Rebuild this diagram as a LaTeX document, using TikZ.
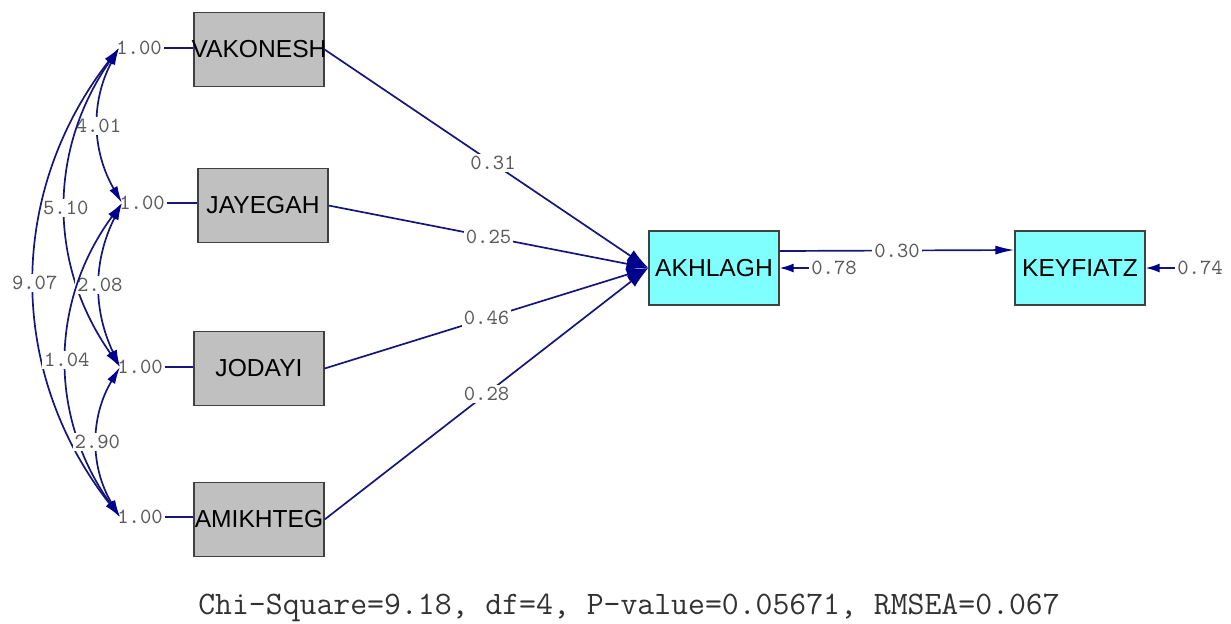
\documentclass[tikz,border=0pt]{standalone}
\usepackage{fontspec}
\setmainfont{Liberation Sans}
\usetikzlibrary{arrows.meta}
\definecolor{pathblue}{RGB}{22,22,120}
\definecolor{headblue}{RGB}{0,0,140}
\definecolor{numgray}{RGB}{90,90,90}
\definecolor{fitgray}{RGB}{50,50,50}
\definecolor{boxgray}{RGB}{192,192,192}
\definecolor{boxcyan}{RGB}{128,255,255}
% variable names are centred in fixed-size boxes and may overhang them
\newcommand{\varname}[1]{\makebox[0pt][c]{#1}}
\begin{document}
\begin{tikzpicture}[x=0.5pt,y=-0.5pt,
  var/.style={draw=black!75, line width=0.6pt, minimum width=65pt, minimum height=37pt,
    inner sep=0pt, font=\fontsize{12.3}{13}\selectfont},
  obs/.style={var, fill=boxgray},
  lat/.style={var, fill=boxcyan},
  num/.style={font=\ttfamily\fontsize{10.8}{11}\selectfont, text=numgray, fill=white, inner sep=1pt},
  link/.style={draw=pathblue, line width=0.85pt},
  bighead/.style={link, -{Latex[length=11pt,width=6.5pt,fill=headblue,color=headblue]}},
  medhead/.style={link, -{Latex[length=9.5pt,width=4.5pt,fill=headblue,color=headblue]}},
  smallhead/.style={link, -{Latex[length=7pt,width=4.5pt,fill=headblue,color=headblue]}},
  cov/.style={link, {Latex[length=8.5pt,width=4.5pt,fill=headblue,color=headblue]}-{Latex[length=8.5pt,width=4.5pt,fill=headblue,color=headblue]}}
]
\useasboundingbox (0,0) rectangle (1231,623);

% observed variables
\node[obs] (vak) at (259,49.5)  {\varname{VAKONESH}};
\node[obs] (jay) at (263,205.5) {\varname{JAYEGAH}};
\node[obs] (jod) at (259,368.5) {\varname{JODAYI}};
\node[obs] (ami) at (259,519.5) {\varname{AMIKHTEG}};

% endogenous variables
\node[lat] (akh) at (714,268)  {\varname{AKHLAGH}};
\node[lat] (key) at (1080,268) {\varname{KEYFIATZ}};

% error variances of the exogenous variables
\node[num] (e1) at (139,48)  {1.00};
\node[num] (e2) at (142,203) {1.00};
\node[num] (e3) at (140,367) {1.00};
\node[num] (e4) at (140,517) {1.00};
\draw[link] (e1.east) -- (e1.east -| vak.west);
\draw[link] (e2.east) -- (e2.east -| jay.west);
\draw[link] (e3.east) -- (e3.east -| jod.west);
\draw[link] (e4.east) -- (e4.east -| ami.west);

% covariance end points
\coordinate (c1) at (119,48);
\coordinate (c2) at (122,203);
\coordinate (c3) at (120,367);
\coordinate (c4) at (120,517);

% covariances
\draw[cov] (c1) to[bend right=29] node[num] {4.01} (c2);
\draw[cov] (c1) to[bend right=35] node[num] {5.10} (c3);
\draw[cov] (c1) to[bend right=38] node[num] {9.07} (c4);
\draw[cov] (c2) to[bend right=26] node[num] {2.08} (c3);
\draw[cov] (c2) to[bend right=36] node[num] {1.04} (c4);
\draw[cov] (c3) to[bend right=31] node[num] {2.90} (c4);

% structural paths
\draw[bighead] (vak.east) -- node[num, pos=0.52] {0.31} (akh.west);
\draw[bighead] (jay.east) -- node[num, pos=0.5]  {0.25} (akh.west);
\draw[bighead] (jod.east) -- node[num, pos=0.5]  {0.46} (akh.west);
\draw[bighead] (ami.east) -- node[num, pos=0.5]  {0.28} (akh.west);
\draw[medhead] ([yshift=8.5pt]akh.east) -- node[num] {0.30} ([yshift=9pt]key.west);

% residual variances
\node[num] (r1) at (834,268)  {0.78};
\node[num] (r2) at (1200,268) {0.74};
\draw[smallhead] (r1.west) -- (akh.east);
\draw[smallhead] (r2.west) -- (key.east);

% fit statistics
\node[font=\ttfamily\fontsize{16.4}{17}\selectfont, text=fitgray] (fit) at (629,608)
  {Chi-Square=9.18, df=4, P-value=0.05671, RMSEA=0.067};
\end{tikzpicture}
\end{document}
